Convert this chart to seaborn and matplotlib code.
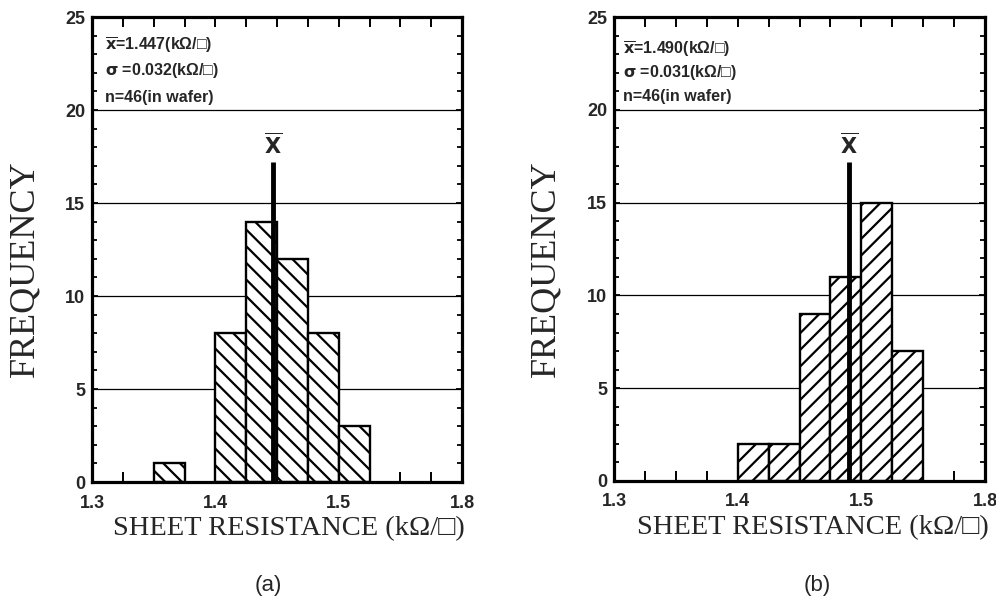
import matplotlib
matplotlib.use("Agg")
import matplotlib.pyplot as plt
import matplotlib.transforms as mtransforms
from matplotlib.ticker import MultipleLocator
import pandas as pd
import seaborn as sns

# Histogram bins (kOhm/sq) and counts for the two wafers
bin_edges = [1.350, 1.375, 1.400, 1.425, 1.450, 1.475, 1.500, 1.525, 1.550]
counts_a = [1, 0, 8, 14, 12, 8, 3, 0]
counts_b = [0, 0, 2, 2, 9, 11, 15, 7]

# Summary statistics printed in each panel
mean_a, sigma_a, n_a = 1.447, 0.032, 46
mean_b, sigma_b, n_b = 1.490, 0.031, 46

# Axis ticks
x_ticks = [1.3, 1.4, 1.5, 1.6]
x_tick_labels = ["1.3", "1.4", "1.5", "1.8"]
y_ticks = [0, 5, 10, 15, 20, 25]

sns.set_style("white")
plt.rcParams["font.family"] = ["Liberation Sans", "DejaVu Sans"]
plt.rcParams["mathtext.fontset"] = "dejavusans"
plt.rcParams["hatch.linewidth"] = 1.6
plt.rcParams["hatch.color"] = "black"

SERIF = ["Liberation Serif", "DejaVu Serif", "DejaVu Sans"]
SANS = ["Liberation Sans", "DejaVu Sans"]

fig = plt.figure(figsize=(9.96, 6.02), dpi=100)
ax_a = fig.add_axes([0.0924, 0.1993, 0.3715, 0.7724])
ax_b = fig.add_axes([0.6165, 0.2010, 0.3725, 0.7707])


def draw_panel(ax, counts, mean, sigma, n, hatch, text_x, text_y):
    centers = [(lo + hi) / 2 for lo, hi in zip(bin_edges[:-1], bin_edges[1:])]
    df = pd.DataFrame({"resistance": centers, "count": counts})
    df = df[df["count"] > 0]
    sns.histplot(data=df, x="resistance", weights="count", bins=bin_edges,
                 stat="count", ax=ax, color="white", edgecolor="black",
                 linewidth=1.7, alpha=1.0)
    for p in list(ax.patches):
        if p.get_height() == 0:
            p.remove()
        else:
            p.set_hatch(hatch)
            p.set_facecolor("white")

    ax.set_xlim(1.3, 1.6)
    ax.set_ylim(0, 25)
    ax.set_xticks(x_ticks, x_tick_labels)
    ax.xaxis.set_minor_locator(MultipleLocator(0.025))
    ax.set_yticks(y_ticks)
    ax.yaxis.set_minor_locator(MultipleLocator(1))
    ax.tick_params(which="both", direction="in", top=True, right=True,
                   bottom=True, left=True, color="black")
    ax.tick_params(axis="x", which="both", length=7, width=1.4, pad=9)
    ax.tick_params(axis="y", which="major", length=4, width=1.3, pad=5)
    ax.tick_params(axis="y", which="minor", length=3.5, width=1.3)
    for lab in ax.get_xticklabels() + ax.get_yticklabels():
        lab.set_fontweight("bold")
        lab.set_fontsize(13)
        lab.set_family(SANS)

    ax.yaxis.grid(True, which="major", color="black", linewidth=0.9)
    ax.xaxis.grid(False)
    ax.set_axisbelow(True)
    for s in ax.spines.values():
        s.set_visible(True)
        s.set_color("black")
        s.set_linewidth(2.3)

    # mean marker
    ax.plot([mean, mean], [0, 17.2], color="black", linewidth=3.5,
            solid_capstyle="butt", zorder=4)
    ax.text(mean, 18.1, r"$\overline{\mathbf{X}}$", ha="center", va="center",
            fontsize=15, zorder=5)

    tr = mtransforms.blended_transform_factory(ax.transAxes, ax.transData)
    lines = [
        rf"$\overline{{\mathbf{{x}}}}$={mean:.3f}(kΩ/□)",
        rf"$\mathbf{{\sigma}}$ ={sigma:.3f}(kΩ/□)",
        f"n={n}(in wafer)",
    ]
    for s, y in zip(lines, text_y):
        ax.text(text_x, y, s, transform=tr, ha="left", va="center",
                fontsize=11.5, fontweight="bold", family=SANS)

    ax.set_ylabel("FREQUENCY", fontsize=26, family=SERIF, va="center",
                  ha="center")
    ax.set_xlabel("SHEET RESISTANCE (kΩ/□)", fontsize=20.5, family=SERIF,
                  va="center", ha="center")


draw_panel(ax_a, counts_a, mean_a, sigma_a, n_a, "\\\\",
           0.035, [23.5, 22.1, 20.7])
draw_panel(ax_b, counts_b, mean_b, sigma_b, n_b, "//",
           0.025, [23.3, 22.0, 20.7])

ax_a.yaxis.set_label_coords(-0.181, 0.458)
ax_b.yaxis.set_label_coords(-0.183, 0.458)
ax_a.xaxis.set_label_coords(0.532, -0.101)
ax_b.xaxis.set_label_coords(0.536, -0.101)

fig.text(268 / 996, 1 - 585 / 602, "(a)", ha="center", va="center",
         fontsize=16, family=SANS)
fig.text(817 / 996, 1 - 585 / 602, "(b)", ha="center", va="center",
         fontsize=16, family=SANS)

fig.savefig("out.png", dpi=100)
